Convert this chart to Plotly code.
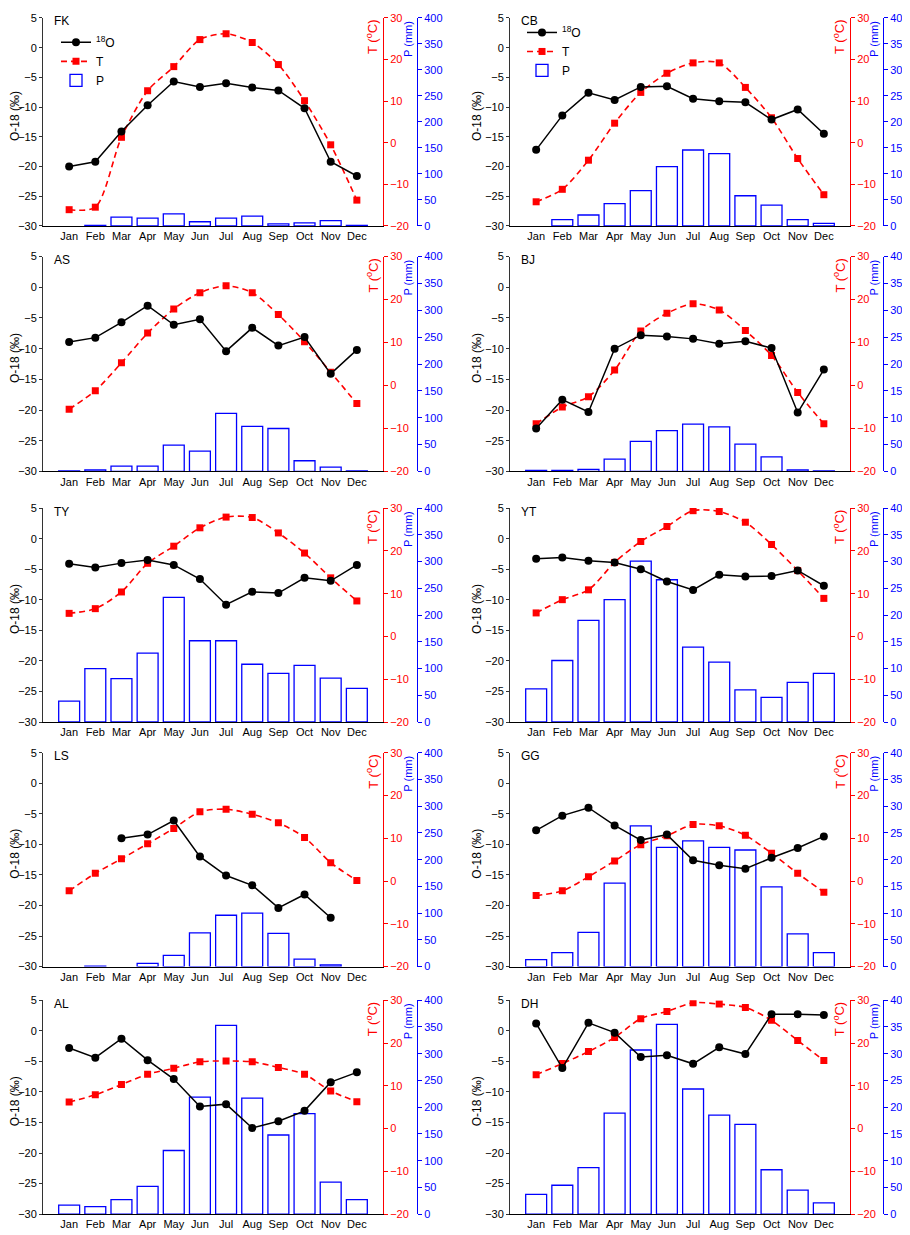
import plotly.graph_objects as go

months = ["Jan", "Feb", "Mar", "Apr", "May", "Jun", "Jul", "Aug", "Sep", "Oct", "Nov", "Dec"]

# -------------------------------
# station data: O-18 (permil), T (degC), P (mm)
# -------------------------------
fk_o18 = [-20.0, -19.2, -14.1, -9.7, -5.7, -6.6, -6.0, -6.7, -7.2, -10.2, -19.2, -21.6]
fk_t = [-16.1, -15.5, 1.3, 12.5, 18.3, 24.8, 26.2, 24.1, 18.8, 10.1, -0.5, -13.8]
fk_p = [None, 1, 17, 15, 23, 8, 15, 19, 4, 6, 10, 1]

cb_o18 = [-17.2, -11.4, -7.6, -8.8, -6.6, -6.5, -8.6, -9.0, -9.2, -12.1, -10.4, -14.5]
cb_t = [-14.2, -11.2, -4.2, 4.7, 12.1, 16.7, 19.2, 19.2, 13.3, 6.0, -3.8, -12.5]
cb_p = [None, 12, 21, 43, 68, 114, 146, 139, 58, 40, 12, 5]

as_o18 = [-8.9, -8.2, -5.7, -3.0, -6.1, -5.2, -10.4, -6.6, -9.5, -8.1, -14.1, -10.2]
as_t = [-5.5, -1.2, 5.3, 12.2, 17.8, 21.6, 23.2, 21.6, 16.5, 10.2, 3.1, -4.2]
as_p = [1, 3, 10, 10, 49, 38, 108, 84, 80, 20, 8, 1]

bj_o18 = [-23.0, -18.3, -20.3, -10.0, -7.8, -8.0, -8.4, -9.2, -8.8, -9.9, -20.4, -13.4]
bj_t = [-8.9, -5.0, -2.6, 3.6, 12.7, 16.8, 19.0, 17.6, 12.8, 7.0, -1.6, -8.9]
bj_p = [2, 2, 4, 23, 56, 76, 88, 83, 51, 27, 3, 1]

ty_o18 = [-4.1, -4.7, -4.0, -3.5, -4.3, -6.6, -10.8, -8.7, -8.9, -6.4, -6.9, -4.3]
ty_t = [5.4, 6.5, 10.4, 17.1, 21.1, 25.4, 27.9, 27.8, 24.2, 19.5, 13.7, 8.3]
ty_p = [39, 100, 81, 129, 233, 152, 152, 108, 91, 106, 82, 63]

yt_o18 = [-3.3, -3.1, -3.6, -3.9, -5.0, -7.0, -8.4, -5.9, -6.2, -6.1, -5.2, -7.7]
yt_t = [5.5, 8.6, 10.9, 17.3, 22.2, 25.7, 29.4, 29.2, 26.7, 21.5, 15.4, 8.9]
yt_p = [62, 115, 190, 229, 301, 266, 140, 112, 60, 46, 74, 91]

ls_o18 = [None, None, -9.0, -8.4, -6.1, -12.0, -15.1, -16.7, -20.4, -18.2, -22.0, None]
ls_t = [-2.3, 1.8, 5.2, 8.7, 12.3, 16.2, 16.8, 15.6, 13.6, 10.2, 4.3, 0.1]
ls_p = [None, 1, None, 6, 21, 63, 96, 100, 62, 14, 3, None]

gg_o18 = [-7.7, -5.3, -4.0, -6.9, -9.3, -8.4, -12.6, -13.4, -14.0, -12.2, -10.6, -8.7]
gg_t = [-3.4, -2.3, 1.0, 4.7, 8.5, 10.6, 13.2, 12.9, 10.7, 6.5, 1.8, -2.6]
gg_p = [13, 26, 64, 156, 263, 223, 235, 223, 218, 149, 61, 26]

al_o18 = [-2.8, -4.4, -1.3, -4.8, -7.9, -12.4, -12.0, -15.9, -14.8, -13.1, -8.4, -6.8]
al_t = [6.2, 7.9, 10.3, 12.7, 14.1, 15.6, 15.8, 15.6, 14.3, 12.7, 8.8, 6.3]
al_p = [17, 14, 27, 52, 119, 219, 353, 217, 148, 188, 60, 27]

dh_o18 = [1.2, -6.1, 1.3, -0.3, -4.3, -4.0, -5.4, -2.7, -3.8, 2.7, 2.7, 2.6]
dh_t = [12.6, 15.2, 18.0, 21.3, 25.7, 27.4, 29.4, 29.1, 28.3, 25.3, 20.6, 15.9]
dh_p = [37, 54, 87, 189, 307, 355, 234, 185, 168, 83, 45, 21]

panels = [
    ("FK", fk_o18, fk_t, fk_p), ("CB", cb_o18, cb_t, cb_p),
    ("AS", as_o18, as_t, as_p), ("BJ", bj_o18, bj_t, bj_p),
    ("TY", ty_o18, ty_t, ty_p), ("YT", yt_o18, yt_t, yt_p),
    ("LS", ls_o18, ls_t, ls_p), ("GG", gg_o18, gg_t, gg_p),
    ("AL", al_o18, al_t, al_p), ("DH", dh_o18, dh_t, dh_p),
]

# the page body keeps its 8px margin, so positions below are screen px
# and the figure itself is 8px smaller than the window
OFF = 8
W, H = 902, 1227
cols = [(43, 383, 417), (510, 850, 883)]   # left axis, red axis, blue axis
rows = [(12, 222), (253, 470), (507, 723), (754, 970), (1004, 1220)]
title_x = [15, 477]                        # centre of the O-18 axis title
FONT = "Liberation Sans, Arial, sans-serif"
RED = "#ff0000"
BLUE = "#0000ff"


def px(x):
    return (x - OFF) / W


def py(y):
    return 1 - (y - OFF) / H


def ref(prefix, n):
    return prefix if n == 1 else f"{prefix}{n}"


fig = go.Figure()
annotations = []

for i, (name, o18, t, p) in enumerate(panels):
    r, c = divmod(i, 2)
    x0, x1, xb = cols[c]
    top, bot = rows[r]
    xn = i + 1
    yp, yt_, yo = 3 * i + 1, 3 * i + 2, 3 * i + 3
    leg = "legend2" if i == 1 else "legend"
    show = i < 2

    fig.add_trace(go.Bar(
        x=months, y=p, name="P", width=0.8,
        marker=dict(color="rgba(0,0,0,0)", line=dict(color=BLUE, width=1.3)),
        xaxis=ref("x", xn), yaxis=ref("y", yp),
        showlegend=show, legend=leg,
    ))
    fig.add_trace(go.Scatter(
        x=months, y=t, name="T", mode="lines+markers",
        line=dict(color=RED, width=1.6, dash="6px,4px", shape="spline", smoothing=0.8),
        marker=dict(symbol="square", size=7, color=RED),
        xaxis=ref("x", xn), yaxis=ref("y", yt_),
        showlegend=show, legend=leg,
    ))
    fig.add_trace(go.Scatter(
        x=months, y=o18, name="<sup>18</sup>O", mode="lines+markers",
        line=dict(color="black", width=1.5),
        marker=dict(symbol="circle", size=8, color="black"),
        connectgaps=False,
        xaxis=ref("x", xn), yaxis=ref("y", yo),
        showlegend=show, legend=leg,
    ))

    fig.update_layout({
        ref("xaxis", xn): dict(
            domain=[px(x0), px(x1)], anchor=ref("y", yp), type="category",
            range=[-1, 12], showline=True, linecolor="black", linewidth=1,
            ticks="", showgrid=False, zeroline=False,
            tickfont=dict(size=11, color="black"),
        ),
        ref("yaxis", yp): dict(
            domain=[py(bot), py(top)], anchor="free", position=px(xb), side="right",
            range=[0, 400], dtick=50, showline=True, linecolor=BLUE, linewidth=1,
            ticks="outside", ticklen=4, tickcolor=BLUE, showgrid=False, zeroline=False,
            tickfont=dict(size=11, color=BLUE),
        ),
        ref("yaxis", yt_): dict(
            overlaying=ref("y", yp), anchor=ref("x", xn), side="right",
            range=[-20, 30], dtick=10, showline=True, linecolor=RED, linewidth=1,
            ticks="outside", ticklen=4, tickcolor=RED, showgrid=False, zeroline=False,
            tickfont=dict(size=11, color=RED),
        ),
        ref("yaxis", yo): dict(
            overlaying=ref("y", yp), anchor=ref("x", xn), side="left",
            range=[-30, 5], dtick=5, showline=True, linecolor="#333333", linewidth=1,
            ticks="outside", ticklen=3, tickcolor="#333333", showgrid=False, zeroline=False,
            tickfont=dict(size=11, color="black"),
        ),
    })

    # panel label and axis titles
    annotations.append(dict(
        text=name, x=px(x0 + 9), y=py(max(top + 3.5, 15)), xref="paper", yref="paper",
        xanchor="left", yanchor="middle", showarrow=False, font=dict(size=12, color="black"),
    ))
    annotations.append(dict(
        text="O-18 (‰)", x=px(title_x[c]), y=py((top + bot) / 2 - 6),
        xref="paper", yref="paper", xanchor="center", yanchor="middle",
        textangle=-90, showarrow=False, font=dict(size=12, color="black"),
    ))
    annotations.append(dict(
        text="T (<sup>o</sup>C)", x=px(x1 - 11), y=py(max(top, 8)),
        xref="paper", yref="paper", xanchor="center", yanchor="top",
        textangle=-90, showarrow=False, font=dict(size=13, color=RED),
    ))
    annotations.append(dict(
        text="P (mm)", x=px(xb - 9), y=py(max(top + 1, 8)),
        xref="paper", yref="paper", xanchor="center", yanchor="top",
        textangle=-90, showarrow=False, font=dict(size=11, color=BLUE),
    ))

legend_style = dict(
    xanchor="left", yanchor="top", bgcolor="rgba(0,0,0,0)",
    traceorder="reversed", font=dict(size=12, color="black"),
    itemwidth=30, tracegroupgap=0,
)

fig.update_layout(
    width=W, height=H,
    margin=dict(l=0, r=0, t=0, b=0),
    paper_bgcolor="white", plot_bgcolor="white",
    font=dict(family=FONT, size=11, color="black"),
    annotations=annotations,
    legend=dict(x=px(56), y=py(22), **legend_style),
    legend2=dict(x=px(522), y=py(12), **legend_style),
    bargap=0.2,
)

fig.write_html("out.html")
